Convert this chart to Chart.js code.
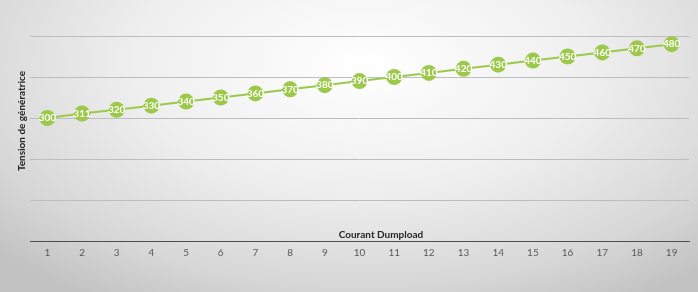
<!DOCTYPE html>
<html>
<head>
<meta charset="utf-8">
<script src="https://cdn.jsdelivr.net/npm/chart.js@4"></script>
<style>
  html, body { margin: 0; padding: 0; }
  #wrap {
    width: 698px; height: 292px;
    background: radial-gradient(ellipse 72% 95% at 52% 22%, #ffffff 0%, #efefef 45%, #d7d7d7 80%, #c2c2c2 100%);
  }
</style>
</head>
<body>
<div id="wrap"><canvas id="myChart" width="698" height="292"></canvas></div>
<script>
var categories = ["1", "2", "3", "4", "5", "6", "7", "8", "9", "10", "11", "12", "13", "14", "15", "16", "17", "18", "19"];
var tension = [300, 311, 320, 330, 340, 350, 360, 370, 380, 390, 400, 410, 420, 430, 440, 450, 460, 470, 480];
var xTitle = "Courant Dumpload";
var yTitle = "Tension de génératrice";

// values written inside the points
var pointLabels = {
    id: "pointLabels",
    afterDatasetsDraw: function (chart) {
        var ctx = chart.ctx;
        var meta = chart.getDatasetMeta(0);
        ctx.save();
        ctx.fillStyle = "#ffffff";
        ctx.font = "bold 10px Lato";
        ctx.textAlign = "center";
        ctx.textBaseline = "middle";
        meta.data.forEach(function (pt, i) {
            ctx.fillText(chart.data.datasets[0].data[i], pt.x, pt.y);
        });
        ctx.restore();
    }
};

// axis titles: x one sits just above the axis line, y one off-centre like the original
var axisTitles = {
    id: "axisTitles",
    afterDraw: function (chart) {
        var ctx = chart.ctx;
        var area = chart.chartArea;
        ctx.save();
        ctx.fillStyle = "#262626";
        ctx.font = "bold 10px Lato";
        ctx.textAlign = "center";
        ctx.textBaseline = "alphabetic";
        ctx.fillText(xTitle, 381, area.bottom - 3);
        ctx.translate(22, 121);
        ctx.rotate(-Math.PI / 2);
        ctx.textBaseline = "middle";
        ctx.fillText(yTitle, 0, 0);
        ctx.restore();
    }
};

window.onload = function () {
    var ctx = document.getElementById("myChart").getContext("2d");
    new Chart(ctx, {
        type: "line",
        data: {
            labels: categories,
            datasets: [{
                data: tension,
                borderColor: "#9cc94a",
                borderWidth: 2,
                backgroundColor: "#9cc94a",
                pointRadius: 8,
                pointHoverRadius: 8,
                pointBorderWidth: 0,
                tension: 0
            }]
        },
        options: {
            responsive: false,
            animation: false,
            layout: { padding: { left: 30, right: 9, top: 36, bottom: 27 } },
            plugins: {
                legend: { display: false },
                tooltip: { enabled: false }
            },
            scales: {
                x: {
                    offset: true,
                    grid: { display: false, drawTicks: false },
                    border: { display: true, color: "#4d4d4d", width: 1 },
                    ticks: { color: "#595959", font: { family: "Lato", size: 10 }, padding: 6 }
                },
                y: {
                    min: 0,
                    max: 500,
                    ticks: { display: false, stepSize: 100 },
                    grid: { color: "#bdbdbd", drawTicks: false },
                    border: { display: false }
                }
            }
        },
        plugins: [pointLabels, axisTitles]
    });
};
</script>
</body>
</html>
